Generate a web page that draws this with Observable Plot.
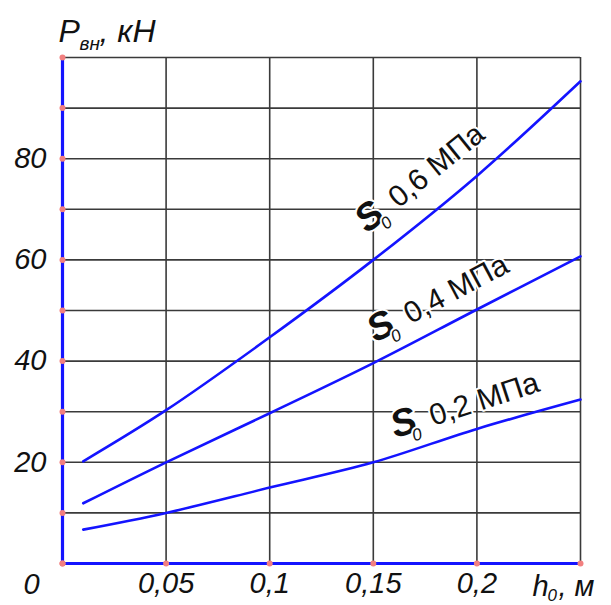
<!DOCTYPE html>
<html>
<head>
<meta charset="utf-8">
<script src="https://cdn.jsdelivr.net/npm/d3@7"></script>
<script src="https://cdn.jsdelivr.net/npm/@observablehq/plot@0.6"></script>
<style>
  html, body { margin: 0; padding: 0; background: #fff; }
  #chart svg { display: block; }
</style>
</head>
<body>
<div id="chart"></div>
<script>
// ---- data ----
const h0 = [0.01, 0.05, 0.1, 0.15, 0.2, 0.25];
const p06 = [20.2, 30.3, 44.7, 60, 76.6, 95.3];
const p04 = [11.9, 20, 29.7, 39.6, 50.2, 60.7];
const p02 = [6.7, 10, 15, 20, 26.6, 32.4];
const seriesNames = ["0,6 МПа", "0,4 МПа", "0,2 МПа"];
const seriesValues = [p06, p04, p02];

const xTicks = [0.05, 0.1, 0.15, 0.2];
const xTickLabels = ["0,05", "0,1", "0,15", "0,2"];
const yTicks = [20, 40, 60, 80];
const gridX = [0.05, 0.1, 0.15, 0.2, 0.25];
const gridY = [10, 20, 30, 40, 50, 60, 70, 80, 90, 100];
const dotsX = [0, 0.05, 0.1, 0.15, 0.2, 0.25];
const dotsY = [0, 10, 20, 30, 40, 50, 60, 70, 80, 90, 100];

// label layout per series (rotation in degrees, screen offsets of the "S" start)
const labelRotate = [-39, -28, -18];
const labelDx = [-6, 2, 22];
const labelDy = [-26, -20, -24];

const rows = [];
seriesValues.forEach((vals, s) => {
  h0.forEach((x, i) => rows.push({series: seriesNames[s], x, y: vals[i]}));
});

const FONT = "'Liberation Sans Narrow', 'Arial Narrow', 'Liberation Sans', Arial, sans-serif";
const BLUE = "#1414ff";
const GRID = "#3a3a3a";

function labelMarks(s) {
  const r = labelRotate[s] * Math.PI / 180;
  const ax = Math.cos(r), ay = Math.sin(r);     // along the baseline
  const px = -Math.sin(r), py = Math.cos(r);    // perpendicular (down)
  const anchor = [{x: h0[3], y: seriesValues[s][3]}];
  const base = {x: "x", y: "y", rotate: labelRotate[s], textAnchor: "start", lineAnchor: "bottom",
                fill: "#111", stroke: "white", strokeWidth: 4, paintOrder: "stroke", fontFamily: FONT};
  const off = (a, p) => ({dx: labelDx[s] + a * ax + p * px, dy: labelDy[s] + a * ay + p * py});
  return [
    Plot.text(anchor, {...base, text: () => "S", fontSize: 38, fontStyle: "italic", fontWeight: "bold", ...off(0, 0)}),
    Plot.text(anchor, {...base, text: () => "0", fontSize: 17, fontStyle: "italic", ...off(17, 9)}),
    Plot.text(anchor, {...base, text: () => seriesNames[s], fontSize: 30, ...off(40, 0)})
  ];
}

const chart = Plot.plot({
  width: 611,
  height: 605,
  marginLeft: 62,
  marginRight: 31,
  marginTop: 57,
  marginBottom: 42,
  style: {fontFamily: FONT, background: "#fff"},
  x: {domain: [0, 0.25], axis: null},
  y: {domain: [0, 100], axis: null},
  marks: [
    Plot.ruleX(gridX, {stroke: GRID, strokeWidth: 1.6}),
    Plot.ruleY(gridY, {stroke: GRID, strokeWidth: 1.6}),
    Plot.line(rows, {x: "x", y: "y", z: "series", stroke: BLUE, strokeWidth: 2.6, curve: "catmull-rom"}),
    ...labelMarks(0), ...labelMarks(1), ...labelMarks(2),
    Plot.ruleX([0], {stroke: BLUE, strokeWidth: 3.2}),
    Plot.ruleY([0], {stroke: BLUE, strokeWidth: 3.2}),
    Plot.dot(dotsY, {x: () => 0, y: d => d, r: 3, fill: "#f28080", stroke: "none"}),
    Plot.dot(dotsX, {x: d => d, y: () => 0, r: 3, fill: "#f28080", stroke: "none"}),
    // y tick labels
    Plot.text(yTicks, {y: d => d, text: d => String(d), frameAnchor: "left", textAnchor: "end", lineAnchor: "middle", dx: -16, fontSize: 29, fontStyle: "italic", fontFamily: FONT, fill: "#111"}),
    // x tick labels
    Plot.text(xTicks, {x: d => d, text: (d, i) => xTickLabels[i], frameAnchor: "bottom", lineAnchor: "top", dy: 9, fontSize: 29, fontStyle: "italic", fontFamily: FONT, fill: "#111"}),
    // origin label
    Plot.text(["0"], {frameAnchor: "bottom-left", textAnchor: "middle", lineAnchor: "bottom", dx: -31, dy: 30, fontSize: 29, fontStyle: "italic", fontFamily: FONT, fill: "#111"}),
    // x axis title h0, м
    Plot.text(["h"], {frameAnchor: "bottom-right", textAnchor: "start", lineAnchor: "bottom", dx: -48, dy: 32, fontSize: 29, fontStyle: "italic", fontFamily: FONT, fill: "#111"}),
    Plot.text(["0"], {frameAnchor: "bottom-right", textAnchor: "start", lineAnchor: "bottom", dx: -33, dy: 37, fontSize: 17, fontStyle: "italic", fontFamily: FONT, fill: "#111"}),
    Plot.text([", м"], {frameAnchor: "bottom-right", textAnchor: "start", lineAnchor: "bottom", dx: -22, dy: 32, fontSize: 29, fontStyle: "italic", fontFamily: FONT, fill: "#111"}),
    // y axis title P вн, кН
    Plot.text(["P"], {frameAnchor: "top-left", textAnchor: "start", lineAnchor: "bottom", dx: -4, dy: -16, fontSize: 32, fontStyle: "italic", fontFamily: FONT, fill: "#111"}),
    Plot.text(["вн"], {frameAnchor: "top-left", textAnchor: "start", lineAnchor: "bottom", dx: 17, dy: -8, fontSize: 19, fontStyle: "italic", fontFamily: FONT, fill: "#111"}),
    Plot.text([", кН"], {frameAnchor: "top-left", textAnchor: "start", lineAnchor: "bottom", dx: 37, dy: -16, fontSize: 32, fontStyle: "italic", fontFamily: FONT, fill: "#111"})
  ]
});

document.getElementById("chart").appendChild(chart);
</script>
</body>
</html>
